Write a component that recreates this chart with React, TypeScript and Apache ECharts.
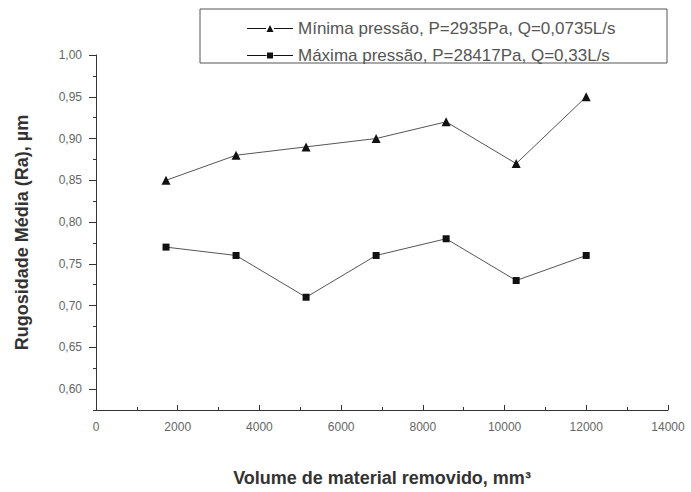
import React, { useEffect, useRef } from "react";
import * as echarts from "echarts";

const xValues = [1714, 3428, 5142, 6856, 8570, 10284, 11998];
const minPressure = [0.85, 0.88, 0.89, 0.9, 0.92, 0.87, 0.95];
const maxPressure = [0.77, 0.76, 0.71, 0.76, 0.78, 0.73, 0.76];
const seriesNames = [
  "Mínima pressão, P=2935Pa, Q=0,0735L/s",
  "Máxima pressão, P=28417Pa, Q=0,33L/s",
];
const yMajorTicks = [0.6, 0.65, 0.7, 0.75, 0.8, 0.85, 0.9, 0.95, 1.0];
const yMinorTicks = [0.575, 0.625, 0.675, 0.725, 0.775, 0.825, 0.875, 0.925, 0.975];
const xTitle = "Volume de material removido, mm³";
const yTitle = "Rugosidade Média (Ra), µm";

const FONT = "Liberation Sans, Arial, sans-serif";

const triIcon = "path://M0,4.5H19V5.5H0Z M19.5,8.5L23,1.5L26.5,8.5Z M27,4.5H46V5.5H27Z";
const rectIcon = "path://M0,4.5H19.5V5.5H0Z M20,2H26V8H20Z M26.5,4.5H46V5.5H26.5Z";

export default function App() {
  const ref = useRef<HTMLDivElement>(null);
  useEffect(() => {
    if (!ref.current) return;
    const chart = echarts.init(ref.current, undefined, { renderer: "svg" });
    const pairs = (vals: number[]) => xValues.map((x, i) => [x, vals[i]]);
    chart.setOption({
      animation: false,
      backgroundColor: "#ffffff",
      textStyle: { fontFamily: FONT },
      grid: { left: 96, right: 23, top: 55, bottom: 65 },
      graphic: [
        {
          type: "rect",
          shape: { x: 200, y: 9, width: 467, height: 54 },
          style: { fill: "none", stroke: "#555", lineWidth: 1 },
          silent: true,
        },
      ],
      legend: {
        orient: "vertical",
        left: 247,
        top: 20,
        itemWidth: 46,
        itemHeight: 10,
        itemGap: 10,
        padding: 0,
        textStyle: { fontFamily: FONT, fontSize: 17, color: "#555" },
        data: [
          { name: seriesNames[0], icon: triIcon },
          { name: seriesNames[1], icon: rectIcon },
        ],
      },
      xAxis: {
        type: "value",
        min: 0,
        max: 14000,
        interval: 2000,
        name: xTitle,
        nameLocation: "middle",
        nameGap: 59,
        nameTextStyle: { fontFamily: FONT, fontSize: 18, fontWeight: "bold", color: "#333" },
        axisLine: { show: true, lineStyle: { color: "#333", width: 1 } },
        axisTick: { show: true, inside: true, length: 5, lineStyle: { color: "#333" } },
        minorTick: { show: true, splitNumber: 2, length: 3, lineStyle: { color: "#333" } },
        axisLabel: {
          fontFamily: FONT,
          fontSize: 12,
          color: "#666",
          margin: 11,
          formatter: (v: number) => String(v),
        },
        splitLine: { show: false },
      },
      yAxis: [
        {
          type: "value",
          min: 0.575,
          max: 1.0,
          name: yTitle,
          nameLocation: "middle",
          nameGap: 65,
          nameTextStyle: { fontFamily: FONT, fontSize: 18, fontWeight: "bold", color: "#333" },
          axisLine: { show: true, lineStyle: { color: "#333", width: 1 } },
          axisTick: {
            show: true,
            length: 7,
            customValues: yMajorTicks,
            lineStyle: { color: "#333" },
          },
          axisLabel: {
            fontFamily: FONT,
            fontSize: 12,
            color: "#666",
            margin: 14,
            customValues: yMajorTicks,
            formatter: (v: number) => v.toFixed(2).replace(".", ","),
          },
          splitLine: { show: false },
        },
        {
          type: "value",
          min: 0.575,
          max: 1.0,
          position: "left",
          axisLine: { show: false },
          axisTick: {
            show: true,
            length: 3,
            customValues: yMinorTicks,
            lineStyle: { color: "#333" },
          },
          axisLabel: { show: false },
          splitLine: { show: false },
        },
      ],
      series: [
        {
          name: seriesNames[0],
          type: "line",
          data: pairs(minPressure),
          symbol: "triangle",
          symbolSize: 9,
          lineStyle: { color: "#555", width: 1 },
          itemStyle: { color: "#111" },
        },
        {
          name: seriesNames[1],
          type: "line",
          data: pairs(maxPressure),
          symbol: "rect",
          symbolSize: 7,
          lineStyle: { color: "#555", width: 1 },
          itemStyle: { color: "#111" },
        },
      ],
    });
    return () => chart.dispose();
  }, []);
  return (
    <div
      ref={ref}
      style={{ position: "fixed", left: 0, top: 0, width: 691, height: 492, background: "#fff" }}
    />
  );
}
